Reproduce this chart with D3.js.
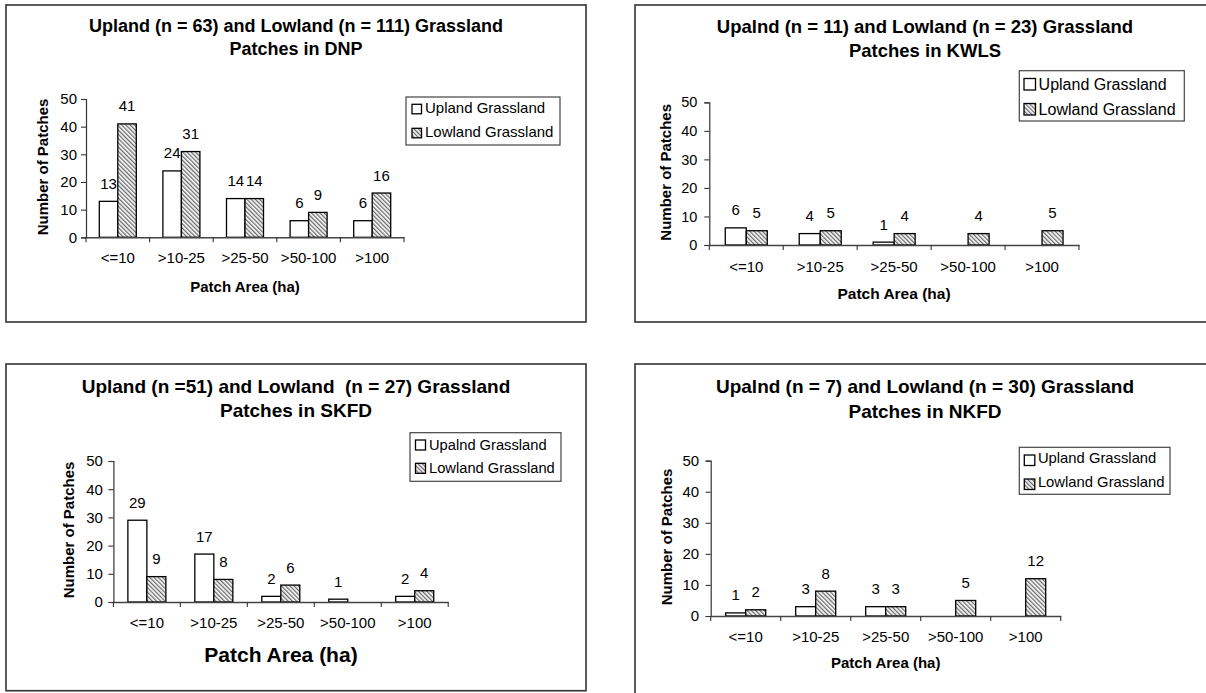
<!DOCTYPE html>
<html>
<head>
<meta charset="utf-8">
<script src="https://cdn.jsdelivr.net/npm/d3@7"></script>
<style>
  html, body { margin: 0; padding: 0; background: #fff; }
  svg { display: block; font-family: "Liberation Sans", Arial, Helvetica, sans-serif; }
  text { white-space: pre; }
</style>
</head>
<body>
<script>
// ---------------- DATA ----------------
const categories = ["<=10", ">10-25", ">25-50", ">50-100", ">100"];
const yTicks = [0, 10, 20, 30, 40, 50];

const dnpUpland  = [13, 24, 14, 6, 6];
const dnpLowland = [41, 31, 14, 9, 16];
const kwlsUpland  = [6, 4, 1, 0, 0];
const kwlsLowland = [5, 5, 4, 4, 5];
const skfdUpland  = [29, 17, 2, 1, 2];
const skfdLowland = [9, 8, 6, 0, 4];
const nkfdUpland  = [1, 3, 3, 0, 0];
const nkfdLowland = [2, 8, 3, 5, 12];

const dnpTitle  = ["Upland (n = 63) and Lowland (n = 111) Grassland", "Patches in DNP"];
const kwlsTitle = ["Upalnd (n = 11) and Lowland (n = 23) Grassland", "Patches in KWLS"];
const skfdTitle = ["Upland (n =51) and Lowland  (n = 27) Grassland", "Patches in SKFD"];
const nkfdTitle = ["Upalnd (n = 7) and Lowland (n = 30) Grassland", "Patches in NKFD"];

const dnpLegend  = ["Upland Grassland", "Lowland Grassland"];
const kwlsLegend = ["Upland Grassland", "Lowland Grassland"];
const skfdLegend = ["Upalnd Grassland", "Lowland Grassland"];
const nkfdLegend = ["Upland Grassland", "Lowland Grassland"];

const yAxisTitle = "Number of Patches";
const xAxisTitle = "Patch Area (ha)";

// ---------------- LAYOUT ----------------
const layouts = [
  { box: [6, 5, 586, 322], x0: 86, x1: 404, yTop: 99, yBot: 237.3, bw: 18.5, tp: 4,
    tx: 296, ty: [32.3, 55.3], ts: 18, catY: 263, xtX: 245, xtY: 292, xts: 15,
    ytX: 42.5, ytY: 167, valSize: 15, tickSize: 15,
    lg: { x: 406, y: 97, w: 154, h: 48, sq: 9.5, sqX: 412, sqY: [104.3, 128.3], tX: 425, tY: [113.3, 137.3], fs: 15 } },
  { box: [635, 5, 1215, 322], x0: 709.3, x1: 1079, yTop: 102.3, yBot: 245, bw: 21, tp: 7,
    tx: 925, ty: [33.3, 57.3], ts: 18.5, catY: 271.7, xtX: 894, xtY: 299, xts: 15.5,
    ytX: 666, ytY: 172.3, valSize: 15, tickSize: 14.5,
    lg: { x: 1019.3, y: 70.7, w: 165, h: 50.3, sq: 11.5, sqX: 1024, sqY: [78.5, 103.5], tX: 1038.6, tY: [90, 115], fs: 16 } },
  { box: [6, 364, 586, 690.7], x0: 113.4, x1: 448.2, yTop: 461, yBot: 602, bw: 19, tp: 5.5,
    tx: 296, ty: [393.3, 417.3], ts: 19, catY: 628.3, xtX: 281, xtY: 661.7, xts: 21,
    ytX: 69, ytY: 530, valSize: 15, tickSize: 15,
    lg: { x: 410, y: 432.7, w: 151, h: 48.6, sq: 10, sqX: 415.5, sqY: [440, 463.3], tX: 429, tY: [450, 473.3], fs: 14.7 } },
  { box: [635, 364, 1215, 705], x0: 710.7, x1: 1060.7, yTop: 460.7, yBot: 616, bw: 20, tp: 6.5,
    tx: 925, ty: [393.3, 418], ts: 19, catY: 641.7, xtX: 885.7, xtY: 668.3, xts: 15,
    ytX: 667, ytY: 537, valSize: 15, tickSize: 15,
    lg: { x: 1019.3, y: 447.3, w: 150.7, h: 47, sq: 10.5, sqX: 1024.3, sqY: [455, 479], tX: 1037.9, tY: [463.3, 487.3], fs: 14.8 } }
];

const panelData = [
  [dnpUpland, dnpLowland, dnpTitle, dnpLegend],
  [kwlsUpland, kwlsLowland, kwlsTitle, kwlsLegend],
  [skfdUpland, skfdLowland, skfdTitle, skfdLegend],
  [nkfdUpland, nkfdLowland, nkfdTitle, nkfdLegend]
];

// ---------------- DRAW ----------------
const svg = d3.select("body").append("svg").attr("width", 1206).attr("height", 693);
svg.append("rect").attr("width", 1206).attr("height", 693).attr("fill", "#fff");

const defs = svg.append("defs");
const pat = defs.append("pattern").attr("id", "hatch")
  .attr("patternUnits", "userSpaceOnUse").attr("width", 3).attr("height", 3)
  .attr("patternTransform", "rotate(-45)");
pat.append("rect").attr("width", 3).attr("height", 3).attr("fill", "#ffffff");
pat.append("rect").attr("width", 1.3).attr("height", 3).attr("fill", "#6a6a6a");

function drawPanel(L, up, low, title, legend) {
  const g = svg.append("g");
  g.append("rect")
    .attr("x", L.box[0]).attr("y", L.box[1])
    .attr("width", L.box[2] - L.box[0]).attr("height", L.box[3] - L.box[1])
    .attr("fill", "#fff").attr("stroke", "#333").attr("stroke-width", 1.6);

  const x = d3.scaleBand().domain(categories).range([L.x0, L.x1]).padding(0);
  const sub = d3.scaleBand().domain(["up", "low"]).range([0, 2 * L.bw]).padding(0);
  const off = (x.bandwidth() - 2 * L.bw) / 2;
  const y = d3.scaleLinear().domain([0, 50]).range([L.yBot, L.yTop]);

  // Bars
  const rows = categories.map((c, i) => ({ c, up: up[i], low: low[i] }));
  const series = [];
  rows.forEach(r => {
    series.push({ c: r.c, key: "up", v: r.up });
    series.push({ c: r.c, key: "low", v: r.low });
  });
  const nonzero = series.filter(d => d.v > 0);

  g.selectAll("rect.bar").data(nonzero).enter().append("rect")
    .attr("class", "bar")
    .attr("x", d => x(d.c) + off + sub(d.key))
    .attr("y", d => y(d.v))
    .attr("width", sub.bandwidth())
    .attr("height", d => y(0) - y(d.v))
    .attr("fill", d => d.key === "up" ? "#fff" : "url(#hatch)")
    .attr("stroke", "#000").attr("stroke-width", 1.3);

  // Value labels
  g.selectAll("text.val").data(nonzero).enter().append("text")
    .attr("class", "val")
    .attr("x", d => x(d.c) + off + sub(d.key) + sub.bandwidth() / 2)
    .attr("y", d => y(d.v) - 12.5)
    .attr("text-anchor", "middle")
    .attr("font-size", L.valSize)
    .attr("fill", "#000")
    .text(d => d.v);

  // Y axis
  const ya = g.append("g").attr("transform", `translate(${L.x0},0)`)
    .call(d3.axisLeft(y).tickValues(yTicks).tickSize(5).tickPadding(L.tp).tickFormat(d3.format("d")));
  ya.select(".domain").attr("stroke", "#333").attr("stroke-width", 1.2);
  ya.selectAll(".tick line").attr("stroke", "#333").attr("stroke-width", 1.1);
  ya.selectAll(".tick text").attr("font-size", L.tickSize).attr("font-family", null).attr("fill", "#000");

  // X axis (line, category labels, boundary ticks)
  const xa = g.append("g").attr("transform", `translate(0,${y(0)})`)
    .call(d3.axisBottom(x).tickSize(0).tickPadding(0));
  xa.select(".domain").attr("stroke", "#444").attr("stroke-width", 1.4);
  xa.selectAll(".tick text")
    .attr("font-size", 15).attr("font-family", null).attr("fill", "#000")
    .attr("y", L.catY - y(0)).attr("dy", null);
  const bounds = categories.map(c => x(c)).concat([x.range()[1]]);
  g.selectAll("line.xt").data(bounds).enter().append("line")
    .attr("class", "xt")
    .attr("x1", d => d).attr("x2", d => d)
    .attr("y1", y(0)).attr("y2", y(0) + 5)
    .attr("stroke", "#333").attr("stroke-width", 1.1);

  // Title
  g.selectAll("text.title").data(title).enter().append("text")
    .attr("class", "title")
    .attr("x", L.tx).attr("y", (d, i) => L.ty[i])
    .attr("text-anchor", "middle").attr("font-weight", "bold")
    .attr("font-size", L.ts).attr("fill", "#000")
    .text(d => d);

  // Axis titles
  g.append("text")
    .attr("transform", `translate(${L.ytX},${L.ytY}) rotate(-90)`)
    .attr("dy", "0.35em")
    .attr("text-anchor", "middle").attr("font-weight", "bold")
    .attr("font-size", 15).attr("fill", "#000")
    .text(yAxisTitle);
  g.append("text")
    .attr("x", L.xtX).attr("y", L.xtY)
    .attr("text-anchor", "middle").attr("font-weight", "bold")
    .attr("font-size", L.xts).attr("fill", "#000")
    .text(xAxisTitle);

  // Legend
  const lg = L.lg;
  g.append("rect").attr("x", lg.x).attr("y", lg.y).attr("width", lg.w).attr("height", lg.h)
    .attr("fill", "#fff").attr("stroke", "#444").attr("stroke-width", 1.2);
  const keys = ["up", "low"];
  g.selectAll("rect.lgsq").data(keys).enter().append("rect")
    .attr("class", "lgsq")
    .attr("x", lg.sqX).attr("y", (d, i) => lg.sqY[i])
    .attr("width", lg.sq).attr("height", lg.sq)
    .attr("fill", d => d === "up" ? "#fff" : "url(#hatch)")
    .attr("stroke", "#000").attr("stroke-width", 1.3);
  g.selectAll("text.lgt").data(legend).enter().append("text")
    .attr("class", "lgt")
    .attr("x", lg.tX).attr("y", (d, i) => lg.tY[i])
    .attr("font-size", lg.fs).attr("fill", "#000")
    .text(d => d);
}

layouts.forEach((L, i) => {
  const [up, low, title, legend] = panelData[i];
  drawPanel(L, up, low, title, legend);
});
</script>
</body>
</html>
